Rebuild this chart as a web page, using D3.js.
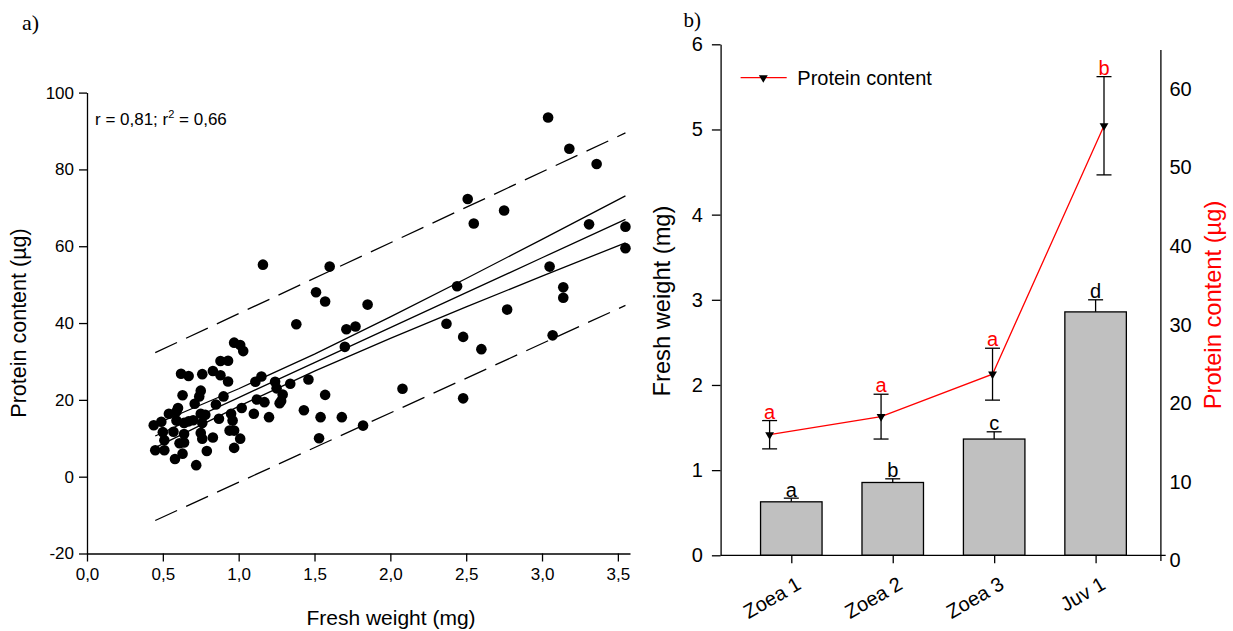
<!DOCTYPE html>
<html><head><meta charset="utf-8">
<script src="https://cdn.jsdelivr.net/npm/d3@7"></script>
<style>
body{margin:0;background:#fff;}
svg text{font-family:"Liberation Sans",Arial,sans-serif;fill:#000;}
</style></head><body>
<svg id="chart" width="1233" height="631"></svg>
<script>
// ---------- Panel a data ----------
const scatterFW = [3.04,3.18,3.36,2.51,2.75,2.55,3.31,3.55,3.55,3.05,2.44,3.14,3.14,2.77,2.37,2.48,3.07,2.60,2.48,2.08,
  1.82,1.85,1.77,1.71,1.70,1.60,1.57,1.51,1.38,1.16,1.46,1.57,1.43,1.54,1.68,1.53,1.34,1.29,1.27,1.25,
  1.24,1.20,1.17,1.15,1.11,1.12,1.10,1.02,1.03,1.01,0.97,0.88,0.93,0.93,0.88,0.83,0.76,0.90,0.85,0.87,
  0.83,0.79,0.72,0.97,1.01,0.97,0.94,0.96,0.95,0.75,0.74,0.71,0.75,0.78,0.76,0.75,0.76,0.67,0.62,0.67,
  0.63,0.60,0.59,0.54,0.64,0.59,0.57,0.64,0.61,0.64,0.63,0.58,0.51,0.50,0.49,0.44,0.45,0.51,0.70,1.28];
const scatterProtein = [93.5,85.4,81.4,72.3,69.3,65.9,65.7,65.1,59.5,54.7,49.6,49.3,46.6,43.5,39.8,36.4,36.8,33.2,20.4,22.9,
  13.3,44.8,39.1,38.4,33.8,54.7,45.6,48.0,39.7,55.2,25.3,21.3,17.3,15.5,15.5,10.0,24.2,21.4,19.1,23.0,
  24.7,15.5,19.4,26.1,24.7,20.1,16.4,17.9,32.7,34.3,34.9,30.1,30.2,24.8,26.4,27.5,26.7,20.9,18.8,15.1,
  10.2,6.7,3.0,7.5,9.9,12.0,12.0,14.6,16.4,22.4,20.9,19.0,16.4,16.1,14.0,11.4,9.9,14.4,26.8,26.2,
  21.2,17.9,17.0,16.4,14.0,14.6,11.7,11.1,8.7,8.9,6.0,4.6,9.5,11.6,14.3,13.4,6.9,6.9,14.7,19.7];
const fitFW = [0.45,1.0,1.5,2.0,2.5,3.0,3.55];
const fitProtein = [10.6,20.6,29.7,38.8,47.9,57.0,67.0];
const ciUpper = [13.65,22.9,31.9,41.6,51.6,61.8,73.1];
const ciLower = [7.55,18.3,27.5,36.0,44.2,52.2,60.9];
const predFW = [0.45,3.55];
const predUpper = [32.3,89.5];
const predLower = [-11.4,44.6];
const fwTicks = [0,0.5,1,1.5,2,2.5,3,3.5];
const proteinTicks = [-20,0,20,40,60,80,100];

// ---------- Panel b data ----------
const stages = ["Zoea 1","Zoea 2","Zoea 3","Juv 1"];
const freshWeight = [0.628,0.855,1.365,2.858];
const freshWeightSE = [0.043,0.043,0.085,0.142];
const freshWeightLetters = ["a","b","c","d"];
const stageProtein = [16.0,18.3,23.7,55.3];
const stageProteinSE = [1.8,2.85,3.3,6.25];
const proteinLetters = ["a","a","a","b"];
const fwAxisTicks = [0,1,2,3,4,5,6];
const proteinAxisTicks = [0,10,20,30,40,50,60];

const svg = d3.select("#chart");
const comma = d => d3.format(".1f")(d).replace(".", ",");
const plain = d => String(d);

function styleAxis(g, fs){
  g.selectAll("path,line").attr("stroke","#000").attr("stroke-width",1.3);
  g.selectAll("text").attr("font-size",fs).attr("fill","#000")
   .attr("font-family","'Liberation Sans',Arial,sans-serif");
}

// ================= Panel a =================
const xA = d3.scaleLinear([0,3.58],[87,630]);
const yA = d3.scaleLinear([-20,100],[553.5,92.6]);

const gxA = svg.append("g").attr("transform","translate(0,553.5)")
  .call(d3.axisBottom(xA).tickValues(fwTicks).tickFormat(comma).tickSize(8).tickPadding(6).tickSizeOuter(0));
styleAxis(gxA,17);
const gyA = svg.append("g").attr("transform","translate(87,0)")
  .call(d3.axisLeft(yA).tickValues(proteinTicks).tickFormat(plain).tickSize(8).tickPadding(5).tickSizeOuter(0));
styleAxis(gyA,17);

const lineA = d3.line().x(d=>xA(d[0])).y(d=>yA(d[1]));
const zip = (a,b)=>a.map((v,i)=>[v,b[i]]);
[fitProtein,ciUpper,ciLower].forEach(arr=>{
  svg.append("path").attr("d",lineA(zip(fitFW,arr))).attr("fill","none").attr("stroke","#000").attr("stroke-width",1.3);
});
[predUpper,predLower].forEach(arr=>{
  svg.append("path").attr("d",lineA(zip(predFW,arr))).attr("fill","none").attr("stroke","#000")
    .attr("stroke-width",1.3).attr("stroke-dasharray","24,10");
});
svg.append("g").selectAll("circle").data(zip(scatterFW,scatterProtein)).join("circle")
  .attr("cx",d=>xA(d[0])).attr("cy",d=>yA(d[1])).attr("r",5.3).attr("fill","#000");

const rt = svg.append("text").attr("x",95).attr("y",125).attr("font-size",17);
rt.append("tspan").text("r = 0,81; r");
rt.append("tspan").text("2").attr("font-size",11).attr("dy",-7);
rt.append("tspan").text(" = 0,66").attr("dy",7);

svg.append("text").attr("x",391).attr("y",625).attr("text-anchor","middle").attr("font-size",21).text("Fresh weight (mg)");
svg.append("text").attr("transform","translate(26,323) rotate(-90)").attr("text-anchor","middle").attr("font-size",21.5).text("Protein content (µg)");
svg.append("text").attr("x",22).attr("y",30).attr("font-size",22).style("font-family","'Liberation Serif','Times New Roman',serif").text("a)");

// ================= Panel b =================
const xBar = d3.scalePoint(stages,[791.3,1095.6]);
const xLine = d3.scalePoint(stages,[769.6,1104]);
const yFW = d3.scaleLinear([0,6],[555.3,44.3]);
const yP = d3.scaleLinear([0,65],[560.5,49.5]);
const barW = 61.5, capW = 15;

// bars
const bars = svg.append("g");
stages.forEach((s,i)=>{
  const cx = xBar(s), v = freshWeight[i], top = yFW(v+freshWeightSE[i]);
  bars.append("line").attr("x1",cx).attr("x2",cx).attr("y1",yFW(v)).attr("y2",top).attr("stroke","#000").attr("stroke-width",1.3);
  bars.append("line").attr("x1",cx-capW/2).attr("x2",cx+capW/2).attr("y1",top).attr("y2",top).attr("stroke","#000").attr("stroke-width",1.3);
  bars.append("rect").attr("x",cx-barW/2).attr("y",yFW(v)).attr("width",barW).attr("height",yFW(0)-yFW(v))
    .attr("fill","#c0c0c0").attr("stroke","#000").attr("stroke-width",1.3);
  bars.append("text").attr("x",cx).attr("y",top-1.5).attr("text-anchor","middle").attr("font-size",20).text(freshWeightLetters[i]);
});

// protein line
const lineB = d3.line().x(d=>xLine(d[0])).y(d=>yP(d[1]));
svg.append("path").attr("d",lineB(zip(stages,stageProtein))).attr("fill","none").attr("stroke","#ff0000").attr("stroke-width",1.3);
const tri = d3.symbol(d3.symbolTriangle,34);
stages.forEach((s,i)=>{
  const cx = xLine(s), p = stageProtein[i], se = stageProteinSE[i];
  const t = yP(p+se), b = yP(p-se);
  svg.append("line").attr("x1",cx).attr("x2",cx).attr("y1",t).attr("y2",b).attr("stroke","#000").attr("stroke-width",1.3);
  [t,b].forEach(yy=>svg.append("line").attr("x1",cx-capW/2).attr("x2",cx+capW/2).attr("y1",yy).attr("y2",yy).attr("stroke","#000").attr("stroke-width",1.3));
  svg.append("path").attr("d",tri()).attr("transform",`translate(${cx},${yP(p)}) rotate(180)`).attr("fill","#000");
  svg.append("text").attr("x",cx).attr("y",t-2).attr("text-anchor","middle").attr("font-size",20).style("fill","#ff0000").text(proteinLetters[i]);
});

// axes
const gyL = svg.append("g").attr("transform","translate(720.6,0)")
  .call(d3.axisLeft(yFW).tickValues(fwAxisTicks).tickFormat(plain).tickSize(8.7).tickPadding(9).tickSizeOuter(0));
styleAxis(gyL,20);
const gyR = svg.append("g").attr("transform","translate(1160.4,0)")
  .call(d3.axisRight(yP).tickValues(proteinAxisTicks).tickFormat(plain).tickSize(0).tickPadding(9).tickSizeOuter(0));
styleAxis(gyR,20);
const gxB = svg.append("g").attr("transform","translate(0,555.3)")
  .call(d3.axisBottom(xBar).tickSize(8).tickSizeOuter(0));
gxB.select(".domain").remove();
styleAxis(gxB,20);
gxB.selectAll(".tick text").attr("y",0).attr("dy",0).attr("x",0)
  .attr("text-anchor","end").attr("transform","translate(10.7,32.7) rotate(-30)");
svg.append("line").attr("x1",720.6).attr("x2",1165.7).attr("y1",yFW(0)).attr("y2",yFW(0)).attr("stroke","#000").attr("stroke-width",1.3);

// legend
svg.append("line").attr("x1",740.6).attr("x2",786.7).attr("y1",77.7).attr("y2",77.7).attr("stroke","#ff0000").attr("stroke-width",1.3);
svg.append("path").attr("d",tri()).attr("transform","translate(763.3,77.7) rotate(180)").attr("fill","#000");
svg.append("text").attr("x",797.3).attr("y",85.3).attr("font-size",20).text("Protein content");

// titles
svg.append("text").attr("transform","translate(670,301) rotate(-90)").attr("text-anchor","middle").attr("font-size",23.7).text("Fresh weight (mg)");
svg.append("text").attr("transform","translate(1221,305) rotate(-90)").attr("text-anchor","middle").attr("font-size",23.7).style("fill","#ff0000").text("Protein content (µg)");
svg.append("text").attr("x",683.5).attr("y",27).attr("font-size",21).style("font-family","'Liberation Serif','Times New Roman',serif").text("b)");
</script>
</body></html>
